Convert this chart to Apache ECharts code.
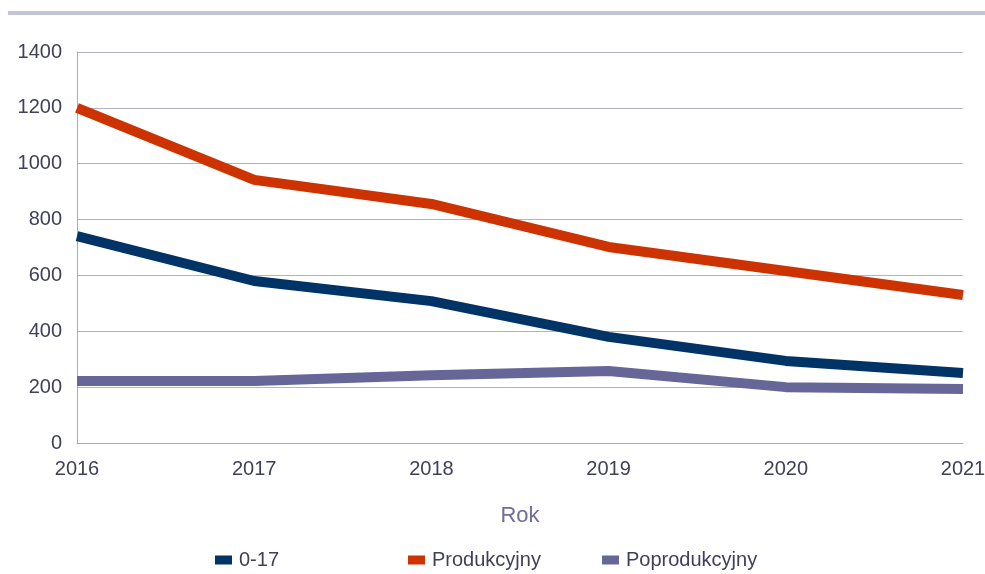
<!DOCTYPE html>
<html>
<head>
<meta charset="utf-8">
<script src="https://cdn.jsdelivr.net/npm/echarts@6/dist/echarts.min.js"></script>
<style>
  html, body { margin: 0; padding: 0; background: #fff; }
  #chart { width: 985px; height: 574px; }
</style>
</head>
<body>
<div id="chart"></div>
<script>
var years = ["2016", "2017", "2018", "2019", "2020", "2021"];
var seriesNames = ["0-17", "Produkcyjny", "Poprodukcyjny"];
var kids = [741, 580, 508, 380, 294, 251];
var working = [1200, 942, 856, 702, 616, 530];
var retired = [222, 222, 243, 258, 200, 193];

var colors = ["#003466", "#cc3300", "#666699"];
var textColor = "#40405a";

var chart = echarts.init(document.getElementById("chart"));

function legendAt(name, left) {
  return {
    left: left,
    top: 545,
    icon: "rect",
    itemWidth: 17,
    itemHeight: 9,
    itemGap: 0,
    textStyle: { color: textColor, fontSize: 20, fontFamily: "Liberation Sans", padding: [0, 0, 0, 2] },
    data: [name]
  };
}

var option = {
  animation: false,
  color: colors,
  graphic: [
    {
      type: "rect",
      shape: { x: 8, y: 11, width: 977, height: 4 },
      style: { fill: "#c4c4d8" },
      silent: true
    }
  ],
  grid: { left: 77, right: 22, top: 52, bottom: 131, outerBoundsMode: "none" },
  legend: [
    legendAt(seriesNames[0], 210),
    legendAt(seriesNames[1], 403),
    legendAt(seriesNames[2], 597)
  ],
  xAxis: {
    type: "category",
    data: years,
    boundaryGap: false,
    name: "Rok",
    nameLocation: "middle",
    nameGap: 62,
    nameTextStyle: { color: "#6e6e9e", fontSize: 22, fontFamily: "Liberation Sans" },
    axisLine: { show: true, lineStyle: { color: "#a8a8c4", width: 1 } },
    axisTick: { show: false },
    axisLabel: { color: textColor, fontSize: 20, fontFamily: "Liberation Sans", margin: 16 }
  },
  yAxis: {
    type: "value",
    min: 0,
    max: 1400,
    interval: 200,
    axisLine: { show: true, lineStyle: { color: "#a8a8c4", width: 1 } },
    axisTick: { show: false },
    axisLabel: {
      color: textColor, fontSize: 20, fontFamily: "Liberation Sans", margin: 15,
      formatter: function (v) { return String(v); }
    },
    splitLine: { lineStyle: { color: "#b4b4c8", width: 1 } }
  },
  series: [
    { name: seriesNames[0], type: "line", data: kids, symbol: "none", lineStyle: { width: 10, color: colors[0] } },
    { name: seriesNames[1], type: "line", data: working, symbol: "none", lineStyle: { width: 10, color: colors[1] } },
    { name: seriesNames[2], type: "line", data: retired, symbol: "none", lineStyle: { width: 10, color: colors[2] } }
  ]
};

chart.setOption(option);
</script>
</body>
</html>
